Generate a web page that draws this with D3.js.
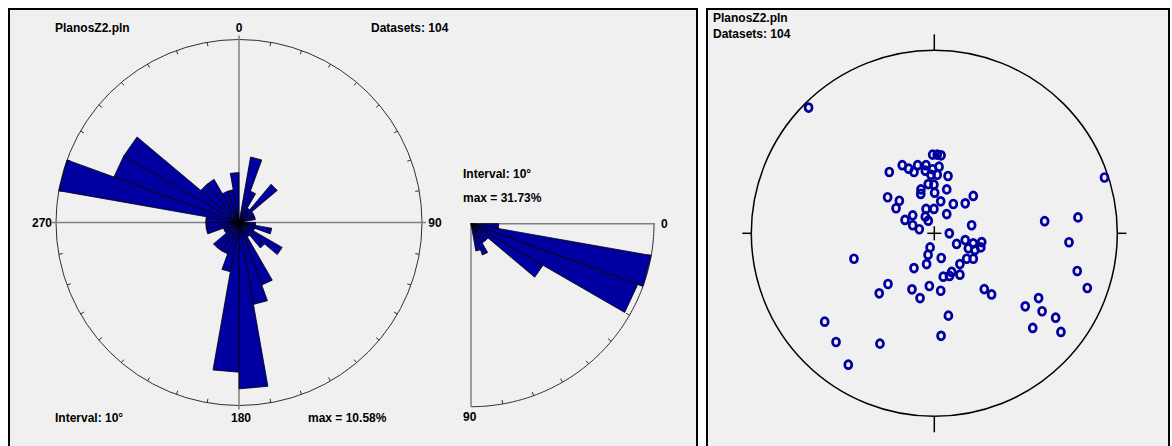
<!DOCTYPE html>
<html>
<head>
<meta charset="utf-8">
<script src="https://cdn.jsdelivr.net/npm/d3@7"></script>
<style>
  html, body { margin: 0; padding: 0; background: #ffffff; }
  svg { display: block; }
  text { font-family: "Liberation Sans", Arial, sans-serif; font-weight: bold; font-size: 12px; fill: #000; }
</style>
</head>
<body>
<svg id="chart" width="1172" height="446"></svg>
<script>
// ---- data -------------------------------------------------------------
const fileName = "PlanosZ2.pln";
const datasetCount = 104;
const binWidth = 10;

// dip-direction rose: counts per 10° sector, starting at 0° (N), clockwise
const dipDirCounts = [
  0, 4, 2, 1, 3, 1, 1, 1, 0,
  1, 2, 1, 3, 2, 1, 4, 5, 10,
  9, 3, 2, 2, 2, 1, 1, 2, 2,
  2, 11, 8, 8, 3, 3, 2, 2, 3
];

// dip-angle rose: counts per 10° class from 0° to 90°
const dipCounts = [5, 33, 32, 15, 4, 4, 6, 5, 0];

// compass labels of the full rose
const compassLabels = ["0", "90", "180", "270"];

// poles plotted in the equal-area net: east / north, in percent of net radius
const poleEast = [
  -0.9, 1.6, 3.7, -24.6, -17.5, -14.0, -11.1, -9.1, -4.5, -0.9, 2.6, -4.9, -1.8, 1.6, 7.5,
  -3.3, -0.2, -7.3, 6.8, 0.2, -7.4, -25.5, -19.1, -20.9, 3.5, 10.4, 16.9, 21.3, -4.5, -0.2,
  -11.8, -4.9, 6.8, -16.0, -3.3, -11.8, -8.2, 8.2, 20.4, 12.2, 16.9, 21.3, 25.9, 18.6, 22.2,
  25.4, -2.3, -3.4, 3.8, 17.7, 21.3, -11.1, -4.2, 14.0, 9.5, 4.9, 14.0, 8.3, -25.3, -30.1,
  -12.2, -2.7, 3.5, -7.8, 27.3, 31.3, 7.7, 3.7, -43.9, -59.9, -53.7, -29.7, -47.0, 60.3, 78.5,
  73.6, 78.1, 83.6, 57.0, 49.7, 58.9, 66.3, 53.8, 69.2, 93.0, -68.7
];
const poleNorth = [
  43.0, 43.0, 42.6, 33.5, 37.2, 35.3, 33.5, 37.2, 37.2, 35.0, 36.4, 34.2, 32.0, 32.0, 31.3,
  26.9, 26.6, 24.0, 24.0, 22.2, 21.5, 19.7, 17.8, 13.7, 17.5, 16.0, 16.4, 20.4, 13.3, 13.3,
  9.8, 9.1, 10.5, 7.3, 6.9, 4.4, 2.2, 0.0, 4.4, -5.8, -3.7, -5.5, -4.8, -8.2, -9.1,
  -7.7, -7.7, -11.7, -13.5, -13.9, -13.9, -19.0, -16.8, -16.8, -21.1, -23.7, -22.6, -23.3, -27.7, -32.8,
  -30.6, -28.8, -31.4, -35.4, -30.5, -33.4, -45.0, -56.0, -13.9, -48.3, -59.4, -60.3, -71.8, 6.6, 8.7,
  -4.9, -20.6, -29.9, -35.4, -39.9, -42.6, -46.1, -51.7, -53.9, 30.5, 68.7
];

// ---- layout -----------------------------------------------------------
const svg = d3.select("#chart");
const panelFill = "#f0f0f0";
const petalFill = "#0000a0";
const R = 183;

// panels
svg.append("rect").attr("x", 9).attr("y", 9).attr("width", 688).attr("height", 460)
  .attr("fill", panelFill).attr("stroke", "#000").attr("stroke-width", 2);
svg.append("rect").attr("x", 707).attr("y", 9).attr("width", 462).attr("height", 460)
  .attr("fill", panelFill).attr("stroke", "#000").attr("stroke-width", 2);

// ---- full dip-direction rose ------------------------------------------
const rose = svg.append("g").attr("transform", "translate(239,222.5)");
const rScale = d3.scaleLinear().domain([0, d3.max(dipDirCounts)]).range([0, R]);
const toXY = (az, r) => [r * Math.sin(az * Math.PI / 180), -r * Math.cos(az * Math.PI / 180)];

rose.append("circle").attr("r", R).attr("fill", "none").attr("stroke", "#303030").attr("stroke-width", 1);
d3.range(0, 360, 10).filter(a => a % 90 !== 0).forEach(a => {
  const p0 = toXY(a, R), p1 = toXY(a, R - 4);
  rose.append("line").attr("x1", p0[0]).attr("y1", p0[1]).attr("x2", p1[0]).attr("y2", p1[1])
    .attr("stroke", "#303030").attr("stroke-width", 1);
});
rose.append("line").attr("x1", -187).attr("x2", 187).attr("y1", 0).attr("y2", 0)
  .attr("stroke", "#808080").attr("stroke-width", 1.5);
rose.append("line").attr("y1", -187).attr("y2", 187).attr("x1", 0).attr("x2", 0)
  .attr("stroke", "#808080").attr("stroke-width", 1.5);

rose.selectAll("path.petal").data(dipDirCounts).join("path")
  .attr("class", "petal")
  .attr("d", (c, i) => {
    if (!c) return null;
    const a0 = toXY(i * binWidth, rScale(c)), a1 = toXY((i + 1) * binWidth, rScale(c));
    return `M0,0L${a0[0]},${a0[1]}L${a1[0]},${a1[1]}Z`;
  })
  .attr("fill", petalFill).attr("stroke", "#000").attr("stroke-width", 0.8)
  .attr("stroke-linejoin", "miter");

const lblPos = [[0, -190.5], [196, 4.5], [2, 199.5], [-197, 4.5]];
compassLabels.forEach((t, i) => {
  rose.append("text").attr("x", lblPos[i][0]).attr("y", lblPos[i][1])
    .attr("text-anchor", "middle").text(t);
});

svg.append("text").attr("x", 55).attr("y", 32).text(fileName);
svg.append("text").attr("x", 371).attr("y", 32).text("Datasets: " + datasetCount);
svg.append("text").attr("x", 55).attr("y", 422).text("Interval: " + binWidth + "°");
const maxDirPct = d3.max(dipDirCounts) / datasetCount * 100;
svg.append("text").attr("x", 308).attr("y", 422).text("max = " + maxDirPct.toFixed(2) + "%");

// ---- dip-angle quarter rose -------------------------------------------
const q = svg.append("g").attr("transform", "translate(471,223.7)");
const qScale = d3.scaleLinear().domain([0, d3.max(dipCounts)]).range([0, R]);
const qXY = (d, r) => [r * Math.cos(d * Math.PI / 180), r * Math.sin(d * Math.PI / 180)];

const arc = d3.range(0, 90.5, 1).map(d => qXY(d, R));
q.append("path").attr("d", d3.line()(arc)).attr("fill", "none").attr("stroke", "#303030").attr("stroke-width", 1);
d3.range(10, 90, 10).forEach(d => {
  const p0 = qXY(d, R), p1 = qXY(d, R - 4);
  q.append("line").attr("x1", p0[0]).attr("y1", p0[1]).attr("x2", p1[0]).attr("y2", p1[1])
    .attr("stroke", "#303030").attr("stroke-width", 1);
});
q.append("line").attr("x1", 0).attr("x2", 184).attr("y1", 0).attr("y2", 0)
  .attr("stroke", "#808080").attr("stroke-width", 1.5);
q.append("line").attr("x1", 0).attr("x2", 0).attr("y1", 0).attr("y2", 183)
  .attr("stroke", "#808080").attr("stroke-width", 1.5);

q.selectAll("path.petal").data(dipCounts).join("path")
  .attr("class", "petal")
  .attr("d", (c, i) => {
    if (!c) return null;
    const a0 = qXY(i * binWidth, qScale(c)), a1 = qXY((i + 1) * binWidth, qScale(c));
    return `M0,0L${a0[0]},${a0[1]}L${a1[0]},${a1[1]}Z`;
  })
  .attr("fill", petalFill).attr("stroke", "#000").attr("stroke-width", 0.8);

q.append("text").attr("x", 190).attr("y", 4.5).text("0");
q.append("text").attr("x", -8).attr("y", 197).text("90");
svg.append("text").attr("x", 463).attr("y", 178).text("Interval: " + binWidth + "°");
const maxDipPct = d3.max(dipCounts) / datasetCount * 100;
svg.append("text").attr("x", 463).attr("y", 202).text("max = " + maxDipPct.toFixed(2) + "%");

// ---- equal-area net with poles ----------------------------------------
const cx = 934.3, cy = 233.3;
const xs = d3.scaleLinear().domain([-100, 100]).range([cx - R, cx + R]);
const ys = d3.scaleLinear().domain([-100, 100]).range([cy + R, cy - R]);
const net = svg.append("g");
net.append("circle").attr("cx", cx).attr("cy", cy).attr("r", R)
  .attr("fill", "none").attr("stroke", "#000").attr("stroke-width", 1.5);
net.append("line").attr("x1", cx).attr("x2", cx).attr("y1", cy - R - 16).attr("y2", cy - R).attr("stroke", "#000").attr("stroke-width", 1.5);
net.append("line").attr("x1", cx).attr("x2", cx).attr("y1", cy + R).attr("y2", cy + R + 16).attr("stroke", "#000").attr("stroke-width", 1.5);
net.append("line").attr("x1", cx - R - 9).attr("x2", cx - R).attr("y1", cy).attr("y2", cy).attr("stroke", "#000").attr("stroke-width", 1.5);
net.append("line").attr("x1", cx + R).attr("x2", cx + R + 9).attr("y1", cy).attr("y2", cy).attr("stroke", "#000").attr("stroke-width", 1.5);
net.append("line").attr("x1", cx - 7).attr("x2", cx + 7).attr("y1", cy).attr("y2", cy).attr("stroke", "#000").attr("stroke-width", 1.5);
net.append("line").attr("x1", cx).attr("x2", cx).attr("y1", cy - 7).attr("y2", cy + 7).attr("stroke", "#000").attr("stroke-width", 1.5);

net.selectAll("ellipse.pole").data(d3.range(poleEast.length)).join("ellipse")
  .attr("class", "pole")
  .attr("cx", i => xs(poleEast[i])).attr("cy", i => ys(poleNorth[i]))
  .attr("rx", 3.5).attr("ry", 4)
  .attr("fill", "none").attr("stroke", "#0000a0").attr("stroke-width", 2.7);

svg.append("text").attr("x", 713).attr("y", 22).text(fileName);
svg.append("text").attr("x", 713).attr("y", 38).text("Datasets: " + datasetCount);
</script>
</body>
</html>
